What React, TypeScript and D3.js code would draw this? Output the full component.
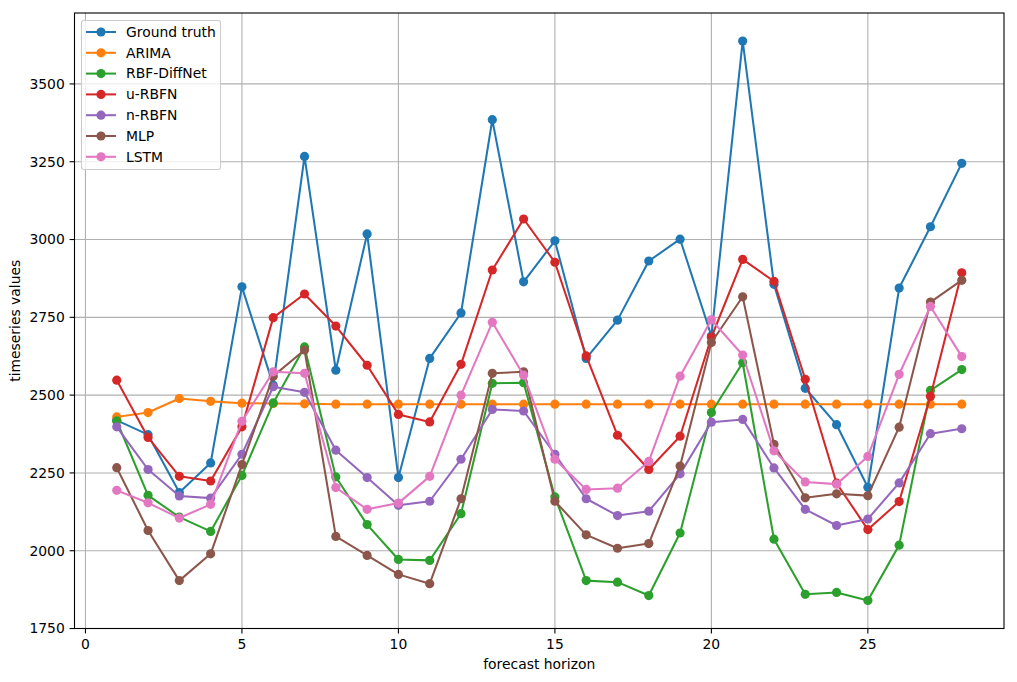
import React, { useEffect, useRef } from "react";
import * as d3 from "d3";

const horizons = d3.range(1, 29);

const groundTruth = [2419, 2373, 2187, 2282, 2848, 2532, 3267, 2580, 3018, 2235, 2618, 2764, 3385, 2864, 2996, 2618, 2741, 2931, 3001, 2690, 3638, 2856, 2522, 2405, 2204, 2844, 3041, 3245];
const arima = [2430, 2444, 2489, 2480, 2474, 2473, 2472, 2471, 2471, 2471, 2471, 2471, 2471, 2471, 2471, 2471, 2471, 2471, 2471, 2471, 2471, 2471, 2471, 2471, 2471, 2471, 2471, 2471];
const rbfDiffNet = [2417, 2178, 2108, 2062, 2242, 2475, 2655, 2237, 2084, 1972, 1969, 2119, 2538, 2540, 2173, 1904, 1899, 1856, 2057, 2444, 2604, 2037, 1860, 1866, 1840, 2018, 2515, 2582];
const uRBFN = [2548, 2364, 2239, 2224, 2398, 2749, 2825, 2722, 2596, 2438, 2414, 2599, 2902, 3066, 2927, 2626, 2371, 2261, 2368, 2686, 2936, 2866, 2551, 2217, 2068, 2158, 2496, 2893];
const nRBFN = [2398, 2261, 2176, 2169, 2310, 2527, 2509, 2323, 2235, 2146, 2159, 2294, 2454, 2449, 2310, 2167, 2113, 2127, 2247, 2413, 2422, 2266, 2133, 2081, 2102, 2218, 2376, 2392];
const mlp = [2267, 2065, 1904, 1990, 2277, 2561, 2645, 2046, 1985, 1924, 1894, 2167, 2570, 2575, 2159, 2051, 2008, 2023, 2272, 2669, 2816, 2342, 2170, 2183, 2177, 2397, 2799, 2869];
const lstm = [2194, 2154, 2105, 2149, 2416, 2575, 2570, 2203, 2133, 2153, 2239, 2500, 2734, 2564, 2294, 2197, 2201, 2287, 2561, 2742, 2629, 2321, 2221, 2214, 2303, 2567, 2785, 2624];

const seriesNames = ["Ground truth", "ARIMA", "RBF-DiffNet", "u-RBFN", "n-RBFN", "MLP", "LSTM"];
const seriesValues = [groundTruth, arima, rbfDiffNet, uRBFN, nRBFN, mlp, lstm];
const seriesColors = ["#1f77b4", "#ff7f0e", "#2ca02c", "#d62728", "#9467bd", "#8c564b", "#e377c2"];

const xTicks = [0, 5, 10, 15, 20, 25];
const yTicks = [1750, 2000, 2250, 2500, 2750, 3000, 3250, 3500];

const W = 1017;
const H = 682;
const M = { left: 74.5, right: 1004, top: 13, bottom: 628.5 };
const FONT = "'DejaVu Sans', sans-serif";
const FS = 13.9;

export default function App() {
  const ref = useRef<SVGSVGElement | null>(null);

  useEffect(() => {
    document.body.style.margin = "0";
    const svg = d3.select(ref.current);
    svg.selectAll("*").remove();

    const xMin = 1, xMax = 28;
    const xPad = (xMax - xMin) * 0.05;
    const all = seriesValues.flat();
    const yMin = d3.min(all)!, yMax = d3.max(all)!;
    const yPad = (yMax - yMin) * 0.05;

    const x = d3.scaleLinear().domain([xMin - xPad, xMax + xPad]).range([M.left, M.right]);
    const y = d3.scaleLinear().domain([yMin - yPad, yMax + yPad]).range([M.bottom, M.top]);

    svg.append("rect").attr("width", W).attr("height", H).attr("fill", "#fff");

    // grid
    const grid = svg.append("g");
    xTicks.forEach((t) => {
      grid.append("line").attr("x1", x(t)).attr("x2", x(t)).attr("y1", M.top).attr("y2", M.bottom)
        .attr("stroke", "#b0b0b0").attr("stroke-width", 1.1);
    });
    yTicks.forEach((t) => {
      grid.append("line").attr("x1", M.left).attr("x2", M.right).attr("y1", y(t)).attr("y2", y(t))
        .attr("stroke", "#b0b0b0").attr("stroke-width", 1.1);
    });

    const clipId = "plotclip";
    svg.append("clipPath").attr("id", clipId).append("rect")
      .attr("x", M.left).attr("y", M.top).attr("width", M.right - M.left).attr("height", M.bottom - M.top);

    const plot = svg.append("g").attr("clip-path", `url(#${clipId})`);
    const line = d3.line<number>().x((_, i) => x(horizons[i])).y((d) => y(d));

    seriesValues.forEach((vals, si) => {
      const g = plot.append("g");
      g.append("path").attr("d", line(vals)!).attr("fill", "none")
        .attr("stroke", seriesColors[si]).attr("stroke-width", 2.05).attr("stroke-linejoin", "round").attr("stroke-linecap", "square");
      g.selectAll("circle").data(vals).enter().append("circle")
        .attr("cx", (_, i) => x(horizons[i])).attr("cy", (d) => y(d)).attr("r", 4.6)
        .attr("fill", seriesColors[si]);
    });

    // spines
    svg.append("rect").attr("x", M.left).attr("y", M.top).attr("width", M.right - M.left).attr("height", M.bottom - M.top)
      .attr("fill", "none").attr("stroke", "#000").attr("stroke-width", 1.1);

    // ticks
    const ax = svg.append("g").attr("font-family", FONT).attr("font-size", FS).attr("fill", "#000");
    xTicks.forEach((t) => {
      ax.append("line").attr("x1", x(t)).attr("x2", x(t)).attr("y1", M.bottom).attr("y2", M.bottom + 4.9).attr("stroke", "#000").attr("stroke-width", 1.1);
      ax.append("text").attr("x", x(t)).attr("y", M.bottom + 9.7).attr("dy", "0.76em").attr("text-anchor", "middle").text(String(t));
    });
    yTicks.forEach((t) => {
      ax.append("line").attr("x1", M.left - 4.9).attr("x2", M.left).attr("y1", y(t)).attr("y2", y(t)).attr("stroke", "#000").attr("stroke-width", 1.1);
      ax.append("text").attr("x", M.left - 9.7).attr("y", y(t)).attr("dy", "0.35em").attr("text-anchor", "end").text(String(t));
    });

    ax.append("text").attr("x", (M.left + M.right) / 2).attr("y", 669).attr("text-anchor", "middle").text("forecast horizon");
    ax.append("text").attr("transform", `translate(20,${(M.top + M.bottom) / 2}) rotate(-90)`).attr("text-anchor", "middle").text("timeseries values");

    // legend
    const lg = svg.append("g").attr("font-family", FONT).attr("font-size", FS);
    lg.append("rect").attr("x", 81.5).attr("y", 20.5).attr("width", 139).attr("height", 149).attr("rx", 2.5)
      .attr("fill", "#fff").attr("fill-opacity", 0.8).attr("stroke", "#cccccc").attr("stroke-width", 1.1);
    seriesNames.forEach((name, i) => {
      const cy = 32 + i * 20.8;
      lg.append("line").attr("x1", 86).attr("x2", 116).attr("y1", cy).attr("y2", cy).attr("stroke", seriesColors[i]).attr("stroke-width", 2.05);
      lg.append("circle").attr("cx", 101).attr("cy", cy).attr("r", 4.6).attr("fill", seriesColors[i]);
      lg.append("text").attr("x", 126).attr("y", cy).attr("dy", "0.35em").attr("fill", "#000").text(name);
    });
  }, []);

  return <svg ref={ref} width={W} height={H} style={{ display: "block" }} />;
}
